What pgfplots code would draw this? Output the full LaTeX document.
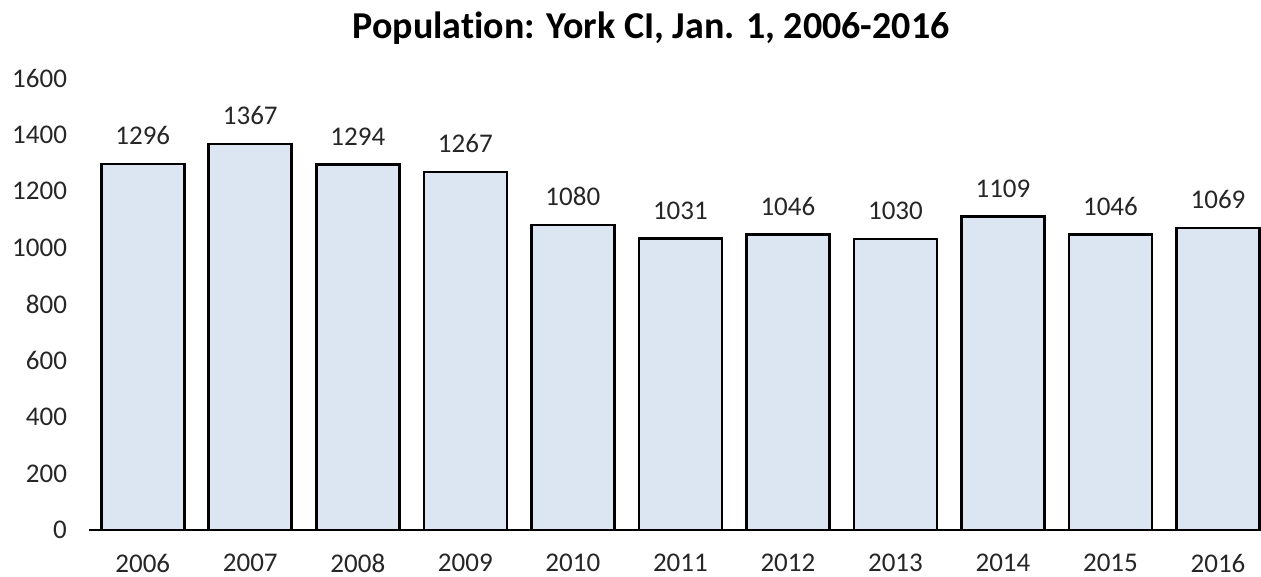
\documentclass[border=0pt]{standalone}
\usepackage{fontspec}
\setmainfont{Carlito}[Ligatures=CommonOff]
\usepackage{pgfplots}
\pgfplotsset{compat=1.18}
\definecolor{barfill}{HTML}{DCE6F2}

\begin{document}
\begin{tikzpicture}
\begin{axis}[
  scale only axis,
  width=586pt, height=226pt,
  xmin=-0.5, xmax=10.4,
  ymin=0, ymax=1600,
  ytick={0,200,...,1600},
  xtick={0,...,10},
  xticklabels={2006,2007,2008,2009,2010,2011,2012,2013,2014,2015,2016},
  axis x line*=bottom, axis y line*=left,
  x axis line style={-, line width=1pt},
  y axis line style={draw=none},
  major tick length=0pt,
  tick style={draw=none},
  /pgf/number format/assume math mode=true,
  /pgf/number format/1000 sep={},
  ticklabel style={font=\fontsize{13.5}{16}\selectfont, text=black!85},
  yticklabel style={xshift=-7.5pt},
  xticklabel style={yshift=-8.5pt},
  ybar, bar width=41.5pt,
  nodes near coords,
  nodes near coords style={font=\fontsize{13.5}{16}\selectfont, text=black!85, anchor=south, yshift=5.5pt,
    /pgf/number format/assume math mode=true, /pgf/number format/1000 sep={}},
  clip=false,
]
\addplot[draw=black, line width=1.3pt, fill=barfill] coordinates {
  (0,1296) (1,1367) (2,1294) (3,1267) (4,1080) (5,1031)
  (6,1046) (7,1030) (8,1109) (9,1046) (10,1069)};
\end{axis}
\node[font=\bfseries\fontsize{19}{22}\selectfont] at (281pt,251pt) {Population: York CI, Jan. 1, 2006-2016};
\pgfresetboundingbox
\path[use as bounding box] (-44.5pt,-23.5pt) rectangle (586pt,265pt);
\end{tikzpicture}
\end{document}
